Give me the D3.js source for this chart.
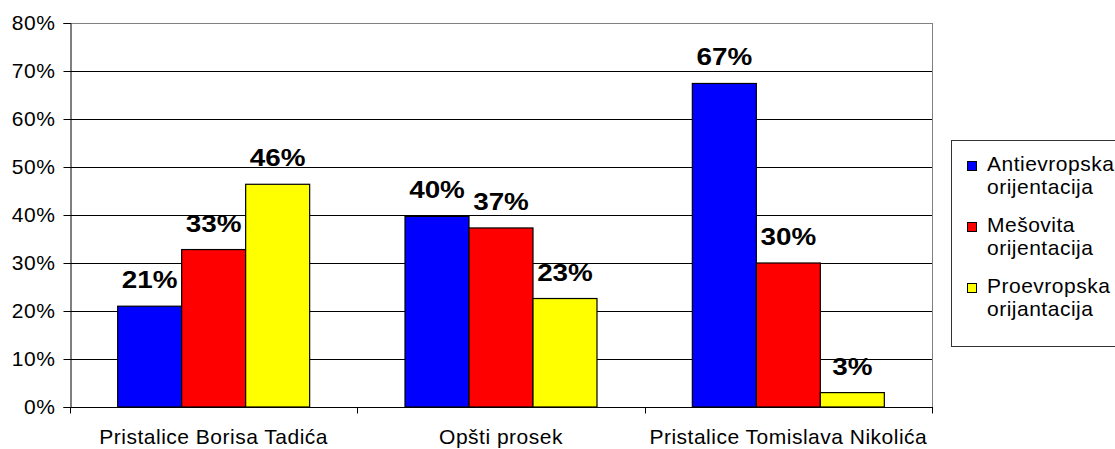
<!DOCTYPE html>
<html><head><meta charset="utf-8">
<script src="https://cdn.jsdelivr.net/npm/d3@7"></script>
<style>
body{margin:0;background:#fff;}
text{font-family:"Liberation Sans",Arial,sans-serif;}
</style></head>
<body><svg id="c" width="1115" height="449"></svg>
<script>
const categories = ["Pristalice Borisa Tadića", "Opšti prosek", "Pristalice Tomislava Nikolića"];
const seriesNames = ["Antievropska orijentacija", "Mešovita orijentacija", "Proevropska orijantacija"];
const seriesColors = ["#0000ff", "#ff0000", "#ffff00"];
const antievropska = [0.210, 0.397, 0.674];
const mesovita = [0.328, 0.373, 0.300];
const proevropska = [0.464, 0.226, 0.030];
const yTicks = [0, 0.1, 0.2, 0.3, 0.4, 0.5, 0.6, 0.7, 0.8];

const seriesValues = [antievropska, mesovita, proevropska];
const svg = d3.select("#c");
const L = 70, R = 932, T = 23, B = 407;
const FONT = '"Liberation Sans",Arial,sans-serif';

const y = d3.scaleLinear().domain([0, 0.8]).range([B, T]);
const x0 = d3.scaleBand().domain(categories).range([L, R]).padding(0);
const x1 = d3.scaleBand().domain(seriesNames).range([0, x0.bandwidth()]).paddingInner(0).paddingOuter(0.745);

// gridlines
svg.append("g").selectAll("line").data(yTicks.slice(1)).join("line")
  .attr("x1", L).attr("x2", R)
  .attr("y1", d => Math.round(y(d)) + 0.5).attr("y2", d => Math.round(y(d)) + 0.5)
  .attr("stroke", "#000").attr("stroke-width", 1);
// plot border right/top
svg.append("line").attr("x1", R + 0.5).attr("x2", R + 0.5).attr("y1", T).attr("y2", B)
  .attr("stroke", "#808080");
svg.append("line").attr("x1", L).attr("x2", R).attr("y1", Math.round(y(0.8)) + 0.5).attr("y2", Math.round(y(0.8)) + 0.5)
  .attr("stroke", "#808080");

// bars
const data = [];
categories.forEach((c, i) => seriesNames.forEach((s, j) => data.push({c, s, j, v: seriesValues[j][i]})));
const g = svg.append("g");
g.selectAll("rect").data(data).join("rect")
  .attr("x", d => x0(d.c) + x1(d.s))
  .attr("y", d => y(d.v))
  .attr("width", x1.bandwidth())
  .attr("height", d => B - y(d.v))
  .attr("fill", (d) => seriesColors[d.j])
  .attr("stroke", "#000").attr("stroke-width", 1.2);

g.selectAll("text").data(data).join("text")
  .attr("transform", d => `translate(${x0(d.c) + x1(d.s) + x1.bandwidth() / 2},${y(d.v) - 18}) scale(1.16,1)`)
  .attr("text-anchor", "middle")
  .attr("font-weight", "bold").attr("font-size", 24)
  .attr("fill", "#000")
  .text(d => d3.format(".0%")(d.v));

// y axis
const yAxis = svg.append("g").attr("transform", `translate(${L + 0.5},0)`)
  .call(d3.axisLeft(y).tickValues(yTicks).tickFormat(d3.format(".0%")).tickSize(7).tickPadding(8));
yAxis.select(".domain").attr("stroke", "#000");
yAxis.selectAll(".tick line").attr("stroke", "#000");
yAxis.selectAll(".tick text").attr("font-size", 21).attr("letter-spacing", 0.6).attr("fill", "#000")
  .attr("font-family", FONT);

// x axis
const xAxis = svg.append("g").attr("transform", `translate(0,${B + 0.5})`)
  .call(d3.axisBottom(x0).tickSize(0).tickPadding(22));
xAxis.select(".domain").attr("stroke", "#000").attr("d", `M${L},0H${R + 1}`);
xAxis.selectAll(".tick text").attr("font-size", 21).attr("letter-spacing", 0.5).attr("fill", "#000")
  .attr("font-family", FONT);
const bounds = categories.map(c => x0(c)).concat([R]);
xAxis.append("g").selectAll("line").data(bounds).join("line")
  .attr("x1", d => Math.round(d) + 0.5).attr("x2", d => Math.round(d) + 0.5)
  .attr("y1", 0).attr("y2", 6).attr("stroke", "#000");

// legend
const lg = svg.append("g");
lg.append("rect").attr("x", 951.5).attr("y", 140.5).attr("width", 170).attr("height", 206)
  .attr("fill", "#fff").attr("stroke", "#333").attr("stroke-width", 1);
seriesNames.forEach((s, j) => {
  const yy = 171 + j * 61;
  lg.append("rect").attr("x", 967.5).attr("y", yy - 9.5).attr("width", 9).attr("height", 9)
    .attr("fill", seriesColors[j]).attr("stroke", "#000");
  const parts = s.split(" ");
  const t = lg.append("text").attr("x", 987).attr("y", yy).attr("font-size", 21)
    .attr("letter-spacing", 0.5).attr("fill", "#000");
  parts.forEach((p, k) => t.append("tspan").attr("x", 987).attr("dy", k === 0 ? 0 : 23).text(p));
});
</script></body></html>
